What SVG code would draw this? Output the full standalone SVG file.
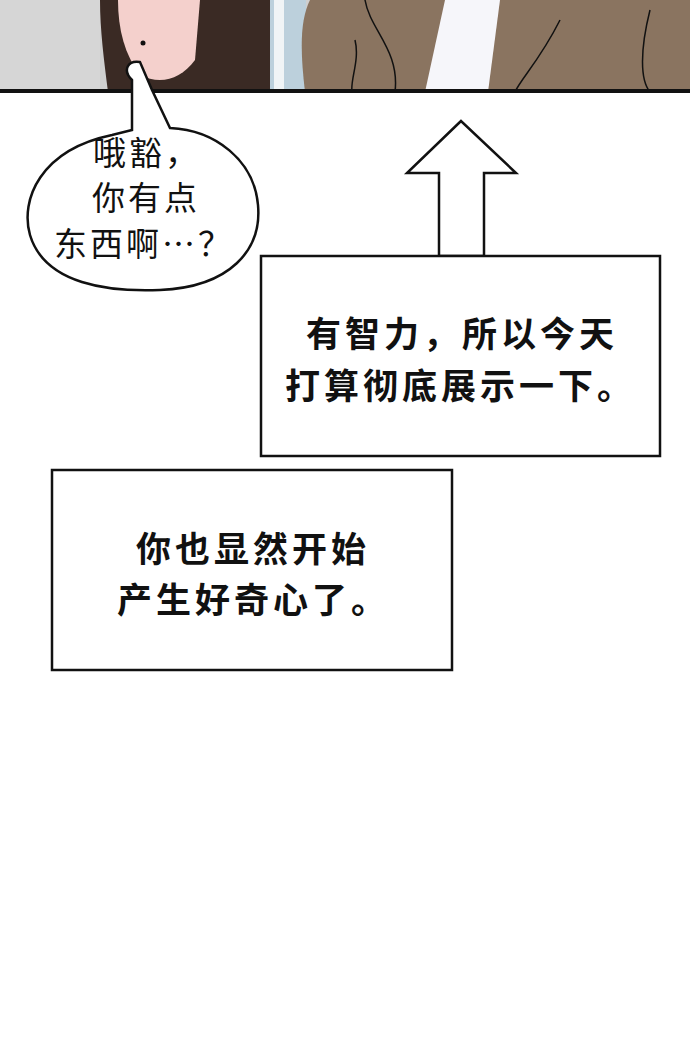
<svg xmlns="http://www.w3.org/2000/svg" width="690" height="1044" viewBox="0 0 690 1044">
<style>
.b{font-family:"Noto Sans CJK SC","Noto Sans",sans-serif;font-weight:bold;font-size:35px;letter-spacing:4px;fill:#111}
.s{font-family:"Noto Sans CJK SC","Noto Sans",sans-serif;font-size:33px;letter-spacing:3px;fill:#111}
.ln{fill:none;stroke:#111;stroke-width:1.5}
</style>
<rect width="690" height="1044" fill="#fff"/>
<g id="panel">
<rect x="0" y="0" width="690" height="92" fill="#cfcfcf"/>
<rect x="0" y="0" width="100" height="92" fill="#d6d6d6"/>
<path d="M100,0 L270,0 L270,92 L108,92 C104,60 100,30 100,0Z" fill="#3a2a24"/>
<path d="M118,0 L200,0 L195,60 C180,80 160,85 140,75 C125,55 118,30 118,0Z" fill="#f4d0cc"/>
<circle cx="143" cy="43" r="2.5" fill="#111"/>
<rect x="270" y="0" width="36" height="92" fill="#bcd0dc"/>
<rect x="274" y="0" width="10" height="92" fill="#f0f4f6"/>
<path d="M305,92 C300,50 300,20 310,0 L690,0 L690,92Z" fill="#8a7460"/>
<path d="M445,0 L500,0 L488,92 L425,92Z" fill="#f6f6fa"/>
<path class="ln" d="M365,0 C370,30 400,50 395,92 M355,40 C360,60 350,80 352,92 M560,20 C540,60 520,80 515,92 M650,10 C640,50 640,80 650,92"/>
<rect x="0" y="89" width="690" height="4" fill="#111"/>
</g>
<g id="bubble">
<path d="M112,135 C40,150 20,200 30,235 C45,285 110,292 160,290 C230,287 262,250 258,205 C254,160 215,130 170,128 L152,90 L140,62 C128,60 122,70 132,80 L132,130 Z" fill="#fff" stroke="#111" stroke-width="2.5"/>
<text class="s" x="93" y="165">哦豁，</text>
<text class="s" x="92" y="210">你有点</text>
<text class="s" x="54" y="256" letter-spacing="1">东西啊…？</text>
</g>
<g id="arrow">
<polygon points="461,121 407,173 439,173 439,256 484,256 484,173 516,173" fill="#fff" stroke="#111" stroke-width="2.5"/>
</g>
<g id="box1">
<rect x="261" y="256" width="399" height="200" fill="#fff" stroke="#111" stroke-width="2.5"/>
<text class="b" x="306" y="347">有智力，所以今天</text>
<text class="b" x="285" y="399">打算彻底展示一下。</text>
</g>
<g id="box2">
<rect x="52" y="470" width="400" height="200" fill="#fff" stroke="#111" stroke-width="2.5"/>
<text class="b" x="136" y="562" letter-spacing="7">你也显然开始</text>
<text class="b" x="117" y="613">产生好奇心了。</text>
</g>
</svg>
